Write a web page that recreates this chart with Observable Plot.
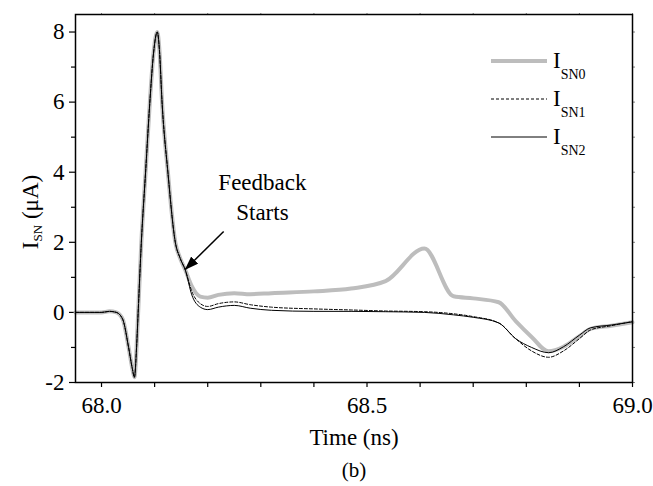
<!DOCTYPE html>
<html><head><meta charset="utf-8">
<script src="https://cdn.jsdelivr.net/npm/d3@7"></script>
<script src="https://cdn.jsdelivr.net/npm/@observablehq/plot@0.6"></script>
<style>
body{margin:0;background:#fff}
svg, svg text{font-family:"Liberation Serif",serif !important}
</style>
</head><body><div id="chart"></div>
<script>
// ---- data ----
const time = [67.951, 67.98, 68.00, 68.015, 68.028, 68.04, 68.051, 68.058, 68.062, 68.066, 68.069, 68.075, 68.083, 68.091, 68.098, 68.105, 68.109, 68.114, 68.125, 68.139, 68.148, 68.158,
  68.17, 68.186, 68.2, 68.22, 68.25, 68.28, 68.32, 68.4, 68.47, 68.535, 68.608, 68.663, 68.7, 68.748, 68.78, 68.81, 68.842, 68.87, 68.9, 68.921, 68.96, 69.0];
const isn0 = [0, 0, 0, 0.03, 0, -0.2, -1.0, -1.6, -1.85, -1.0, 0, 2, 4, 6, 7.4, 8.0, 7.5, 6, 4, 2, 1.55, 1.2,
  0.75, 0.45, 0.42, 0.5, 0.55, 0.52, 0.55, 0.6, 0.68, 0.89, 1.82, 0.46, 0.4, 0.29, -0.25, -0.7, -1.11, -0.98, -0.68, -0.47, -0.38, -0.28];
const isn1 = [0, 0, 0, 0.03, 0, -0.2, -1.0, -1.6, -1.85, -1.0, 0, 2, 4, 6, 7.4, 8.0, 7.5, 6, 4, 2, 1.55, 1.2,
  0.6, 0.25, 0.17, 0.25, 0.3, 0.22, 0.15, 0.1, 0.07, 0.04, 0.02, -0.04, -0.12, -0.3, -0.75, -1.1, -1.28, -1.1, -0.75, -0.5, -0.38, -0.26];
const isn2 = [0, 0, 0, 0.03, 0, -0.2, -1.0, -1.6, -1.85, -1.0, 0, 2, 4, 6, 7.4, 8.0, 7.5, 6, 4, 2, 1.55, 1.2,
  0.5, 0.15, 0.08, 0.15, 0.2, 0.12, 0.06, 0.03, 0.03, 0.02, 0.0, -0.07, -0.14, -0.3, -0.75, -1.0, -1.15, -0.98, -0.65, -0.44, -0.36, -0.27];

const seriesSubs = ["SN0", "SN1", "SN2"];
const xMajorTicks = [68.0, 68.5, 69.0];
const xMinorTicks = [68.1, 68.2, 68.3, 68.4, 68.6, 68.7, 68.8, 68.9];
const yMajorTicks = [-2, 0, 2, 4, 6, 8];
const yMinorTicks = [-1, 1, 3, 5, 7];
const annotText = ["Feedback\nStarts"];
const annotPos = {x: 68.303, y: 3.34};
const arrowTail = {x: 68.230, y: 2.31};
const arrowHead = {x: 68.158, y: 1.23};

const rows = time.map((t, i) => ({t, s0: isn0[i], s1: isn1[i], s2: isn2[i]}));
const allX = [...xMajorTicks, ...xMinorTicks];
const allY = [...yMajorTicks, ...yMinorTicks];
const FS = 23;
const FONT = "Liberation Serif";

const plot = Plot.plot({
  width: 653, height: 486,
  marginTop: 14, marginLeft: 75, marginRight: 21, marginBottom: 104,
  x: {domain: [67.951, 69.0]},
  y: {domain: [-2, 8.5]},
  style: {fontFamily: FONT, fontSize: FS + "px", color: "#000", background: "#fff"},
  marks: [
    Plot.axisX(xMajorTicks, {tickSize: 5, tickPadding: 9, tickFormat: d3.format(".1f"), fontSize: FS, label: null, strokeWidth: 1.2}),
    Plot.axisX(xMinorTicks, {tickSize: 5, tickFormat: () => "", label: null, strokeWidth: 1.2}),
    Plot.axisX(allX, {anchor: "top", tickSize: 2, tickFormat: () => "", label: null, strokeOpacity: 0.5}),
    Plot.axisY(yMajorTicks, {tickSize: 6, tickPadding: 5, tickFormat: d => d3.format("d")(d).replace("\u2212", "-"), fontSize: FS, label: null, strokeWidth: 1.2}),
    Plot.axisY(yMinorTicks, {tickSize: 4, tickFormat: () => "", label: null, strokeWidth: 1.2}),
    Plot.axisY(allY, {anchor: "right", tickSize: 2, tickFormat: () => "", label: null, strokeOpacity: 0.5}),
    Plot.line(rows, {x: "t", y: "s0", stroke: "#bdbdbd", strokeWidth: 4, curve: "monotone-x"}),
    Plot.line(rows, {x: "t", y: "s1", stroke: "#000", strokeWidth: 1, strokeDasharray: "3,2", curve: "monotone-x"}),
    Plot.line(rows, {x: "t", y: "s2", stroke: "#000", strokeWidth: 1, curve: "monotone-x"}),
    Plot.frame({stroke: "#000", strokeWidth: 1.5}),
    Plot.link([arrowTail], {x1: d => arrowTail.x, y1: d => arrowTail.y, x2: d => arrowHead.x, y2: d => arrowHead.y, stroke: "#000", strokeWidth: 1.5}),
    Plot.text(annotText, {x: () => annotPos.x, y: () => annotPos.y, text: d => d, fontSize: FS, lineHeight: 1.3, textAnchor: "middle", lineAnchor: "middle", fill: "#000"}),
    Plot.text(["Time (ns)"], {frameAnchor: "bottom", dy: 55, text: d => d, fontSize: FS, lineAnchor: "middle", fill: "#000"}),
    Plot.text(["(b)"], {frameAnchor: "bottom", dy: 88, text: d => d, fontSize: 21, lineAnchor: "middle", fill: "#000"})
  ]
});

const svg = d3.select(plot);
// filled arrowhead for the annotation
const defs = svg.append("defs");
defs.append("marker").attr("id", "ahead").attr("viewBox", "0 0 14 10")
  .attr("markerUnits", "userSpaceOnUse").attr("markerWidth", 14).attr("markerHeight", 10)
  .attr("refX", 13).attr("refY", 5).attr("orient", "auto")
  .append("path").attr("d", "M0,0L14,5L0,10z").attr("fill", "#000");
svg.selectAll('g[aria-label="link"] path').attr("marker-end", "url(#ahead)");

// y-axis label with subscript
const yl = svg.append("text").attr("transform", "translate(38,212) rotate(-90)")
  .attr("text-anchor", "middle").attr("font-size", FS).attr("fill", "#000");
yl.append("tspan").text("I");
yl.append("tspan").attr("font-size", 13).attr("dy", 4).text("SN");
yl.append("tspan").attr("dy", -4).text(" (\u03bcA)");

// legend
const lg = svg.append("g").attr("text-anchor", "start");
const rowsY = [61, 99, 137];
const styles = [
  {stroke: "#bdbdbd", width: 4, dash: null},
  {stroke: "#000", width: 1, dash: "3,2"},
  {stroke: "#000", width: 1, dash: null}
];
seriesSubs.forEach((s, i) => {
  lg.append("line").attr("x1", 491).attr("x2", 547).attr("y1", rowsY[i]).attr("y2", rowsY[i])
    .attr("stroke", styles[i].stroke).attr("stroke-width", styles[i].width)
    .attr("stroke-dasharray", styles[i].dash);
  const t = lg.append("text").attr("x", 553).attr("y", rowsY[i] + 7).attr("text-anchor", "start")
    .attr("font-size", FS).attr("fill", "#000");
  t.append("tspan").text("I");
  t.append("tspan").attr("font-size", 14).attr("dy", 11).text(s);
});

svg.selectAll("text").attr("font-family", FONT).style("font-family", FONT);
document.getElementById("chart").append(plot);
</script>
</body></html>
